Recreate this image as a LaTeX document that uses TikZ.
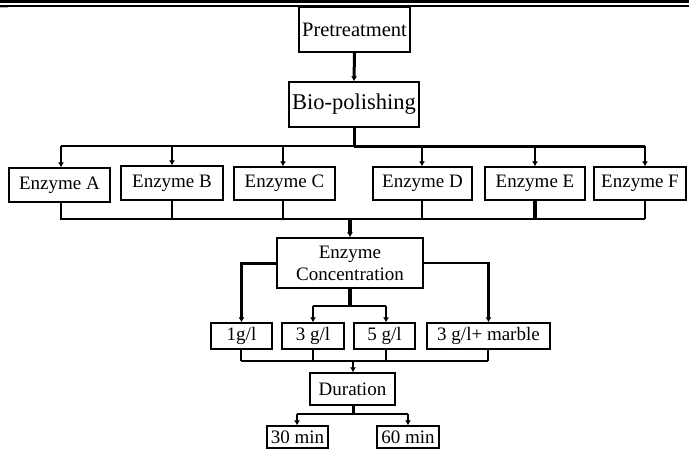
\documentclass[tikz,border=0pt]{standalone}
\usepackage{fontspec}
\setmainfont{Liberation Serif}
\usetikzlibrary{arrows.meta}
\begin{document}
\begin{tikzpicture}[x=1pt,y=-1pt,
  box/.style={draw,line width=1.3pt,inner sep=0pt,align=center,font=\fontsize{19}{22}\selectfont},
  thinln/.style={line width=1.3pt},
  midln/.style={line width=2.2pt},
  thickln/.style={line width=3pt},
  arr/.style={-{Latex[length=5pt,width=6pt]}},
]
\useasboundingbox (0,0) rectangle (689,450);
% top rule
\draw[line width=3pt] (0,1.5) -- (689,1.5);
\draw[line width=1.2pt] (0,6) -- (689,6);
\draw[gray!60,line width=1pt] (0,7.8) -- (8,7.8);

% nodes
\node[box,minimum width=111pt,minimum height=45pt,font=\fontsize{20.5}{22}\selectfont] (pre) at (354.5,29.5) {Pretreatment};
\node[box,minimum width=130pt,minimum height=45pt,font=\fontsize{22.5}{24}\selectfont] (bio) at (354,104.5) {Bio-polishing};

\node[box,minimum width=101pt,minimum height=34pt] (eA) at (59.5,185) {Enzyme A};
\node[box,minimum width=102pt,minimum height=34pt] (eB) at (172,183) {Enzyme B};
\node[box,minimum width=101pt,minimum height=33pt] (eC) at (284.5,183.5) {Enzyme C};
\node[box,minimum width=99pt,minimum height=33pt] (eD) at (422.5,183.5) {Enzyme D};
\node[box,minimum width=100pt,minimum height=33pt] (eE) at (535,183.5) {Enzyme E};
\node[box,minimum width=92pt,minimum height=33pt] (eF) at (640,183.5) {Enzyme F};

\node[box,minimum width=146pt,minimum height=50pt] (conc) at (350,263) {Enzyme\\Concentration};

\node[box,minimum width=61pt,minimum height=26pt] (g1) at (241.5,336) {1g/l};
\node[box,minimum width=62pt,minimum height=26pt] (g3) at (313,336) {3 g/l};
\node[box,minimum width=61pt,minimum height=26pt] (g5) at (384.5,336) {5 g/l};
\node[box,minimum width=123pt,minimum height=26pt] (gm) at (488.5,336) {3 g/l+ marble};

\node[box,minimum width=85pt,minimum height=32pt] (dur) at (352.5,389) {Duration};
\node[box,minimum width=61pt,minimum height=22pt] (m30) at (297.5,437) {30 min};
\node[box,minimum width=62pt,minimum height=22pt] (m60) at (408,437) {60 min};

% pretreatment -> bio
\draw[thickln,arr] (pre.south) -- (bio.north);

% upper bus
\coordinate (u) at (354,146);
\coordinate (uA) at (61,146);
\coordinate (uB) at (172,146);
\coordinate (uC) at (283,146);
\coordinate (uD) at (422,146);
\coordinate (uE) at (535,146);
\coordinate (uF) at (645,146);
\draw[thickln] (bio.south) -- (u);
\draw[thinln] (uA) -- (u);
\draw[thickln] (u) -- (uF);
\foreach \b/\n in {uA/eA,uB/eB,uC/eC,uD/eD,uE/eE,uF/eF}
  \draw[thinln,arr] (\b) -- (\b |- \n.north);

% lower bus
\coordinate (lA) at (61,219);
\coordinate (lB) at (172,219);
\coordinate (lC) at (283,219);
\coordinate (lD) at (422,219);
\coordinate (lE) at (535,219);
\coordinate (lF) at (645,219);
\coordinate (lm) at (350,219);
\draw[thinln] (lA |- eA.south) -- (lA) -- (lB);
\draw[midln] (lB) -- (lF);
\foreach \b/\n in {lB/eB,lC/eC,lD/eD,lF/eF}
  \draw[thinln] (\b |- \n.south) -- (\b);
\draw[line width=3.5pt] (lE |- eE.south) -- (lE);
\draw[line width=3.5pt,arr] (lm) -- (conc.north);

% concentration branches
\draw[thickln,arr] (conc.west) -| (g1.north);
\draw[midln,arr] (conc.east) -| (gm.north);
\coordinate (cm) at (350,306);
\coordinate (c3) at (313,306);
\coordinate (c5) at (386,306);
\draw[line width=4pt] (conc.south) -- (cm);
\draw[midln] (c3) -- (c5);
\draw[midln,arr] (c3) -- (g3.north);
\draw[midln,arr] (c5) -- (c5 |- g5.north);

% bus to duration
\coordinate (d1) at (241,361);
\coordinate (d3) at (313,361);
\coordinate (d5) at (386,361);
\coordinate (dm) at (488,361);
\coordinate (dd) at (353,361);
\draw[midln] (d1) -- (dm);
\draw[thinln] (d1 |- g1.south) -- (d1);
\draw[thinln] (g3.south) -- (d3);
\draw[thinln] (d5 |- g5.south) -- (d5);
\draw[midln] (dm |- gm.south) -- (dm);
\draw[thinln,arr] (dd) -- (dd |- dur.north);

% duration branches
\coordinate (t) at (353,414);
\coordinate (t30) at (297,414);
\coordinate (t60) at (408,414);
\draw[thickln] (t |- dur.south) -- (t);
\draw[midln] (t30) -- (t60);
\draw[midln,arr] (t30) -- (t30 |- m30.north);
\draw[midln,arr] (t60) -- (m60.north);
\end{tikzpicture}
\end{document}
